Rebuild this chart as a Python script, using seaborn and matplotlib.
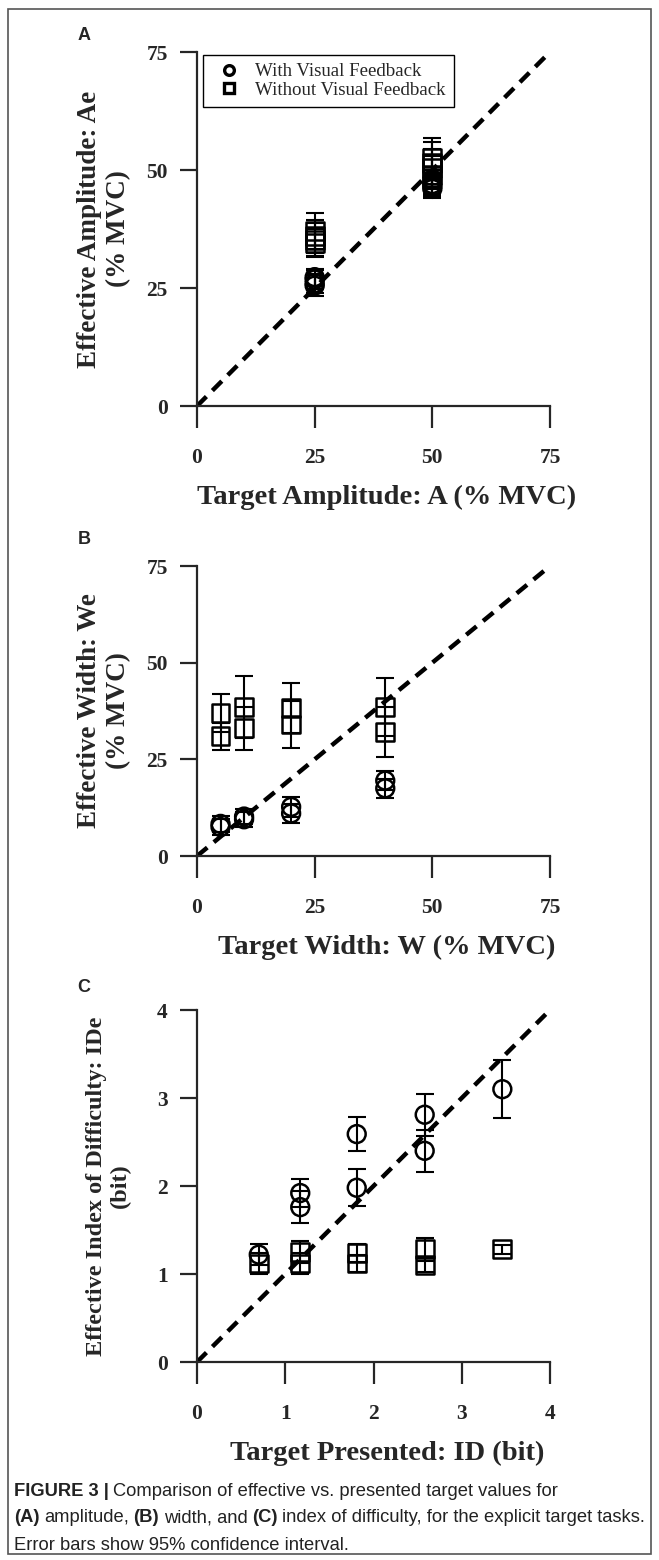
import numpy as np
import pandas as pd
import seaborn as sns
import matplotlib
matplotlib.use("Agg")
import matplotlib.pyplot as plt
from matplotlib.lines import Line2D
from matplotlib.patches import Rectangle

# -- Values (8 conditions per feedback type)

# (A) amplitude
amp_target = [25, 25, 25, 25, 50, 50, 50, 50]
amp_vf = [27.3, 26.8, 26.0, 25.5, 48.0, 47.0, 46.5, 46.0]
amp_vf_ci = [1.8, 2.0, 2.0, 2.2, 2.0, 2.2, 2.2, 2.0]
amp_novf = [37.0, 36.0, 35.2, 34.5, 52.5, 51.5, 50.5, 49.0]
amp_novf_ci = [3.8, 3.5, 3.5, 3.0, 4.3, 4.5, 4.0, 4.0]

# (B) width
wid_target = [5, 5, 10, 10, 20, 20, 40, 40]
wid_vf = [8.3, 7.5, 10.2, 9.5, 12.7, 11.0, 19.5, 17.5]
wid_vf_ci = [2.0, 2.0, 2.0, 2.0, 2.5, 2.5, 2.5, 2.5]
wid_novf = [37.0, 31.0, 38.5, 33.0, 38.3, 34.0, 38.5, 32.0]
wid_novf_ci = [5.0, 3.5, 8.0, 5.5, 6.5, 6.0, 7.5, 6.5]

# (C) index of difficulty
id_target = [0.70, 1.17, 1.17, 1.81, 1.81, 2.58, 2.58, 3.46]
id_vf = [1.22, 1.92, 1.76, 2.59, 1.98, 2.81, 2.40, 3.10]
id_vf_ci = [0.12, 0.16, 0.18, 0.19, 0.21, 0.24, 0.24, 0.33]
id_novf = [1.12, 1.25, 1.12, 1.24, 1.12, 1.28, 1.10, 1.28]
id_novf_ci = [0.12, 0.13, 0.12, 0.10, 0.10, 0.13, 0.08, 0.05]

conditions = ["With Visual Feedback", "Without Visual Feedback"]

sns.set_style("ticks")
plt.rcParams["font.family"] = ["Liberation Serif", "DejaVu Serif"]

W, H = 659, 1560
fig = plt.figure(figsize=(W / 100, H / 100), dpi=100)


def px_axes(left, right, top, bottom):
    return fig.add_axes([left / W, 1 - bottom / H, (right - left) / W, (bottom - top) / H])


def draw_panel(ax, x, vf, vf_ci, novf, novf_ci, lim, ticks, xlabel, ylabel, height_px,
               ylabel_size=19.5):
    df = pd.DataFrame({
        "target": list(x) * 2,
        "effective": list(vf) + list(novf),
        "ci": list(vf_ci) + list(novf_ci),
        "cond": [conditions[0]] * len(x) + [conditions[1]] * len(x),
    })
    ax.errorbar(df["target"], df["effective"], yerr=df["ci"], fmt="none",
                ecolor="black", elinewidth=1.5, capsize=6.5, capthick=1.5, zorder=2)
    sns.scatterplot(data=df, x="target", y="effective", style="cond",
                    markers={conditions[0]: "o", conditions[1]: "s"},
                    facecolors="none", edgecolor="black", linewidth=1.8, s=165,
                    legend=False, ax=ax, zorder=3)
    sns.lineplot(x=[0, lim], y=[0, lim], color="black", linewidth=3.2,
                 linestyle=(0, (3, 1.9)), ax=ax, zorder=1)

    ax.set_xlim(0, lim)
    ax.set_ylim(0, lim)
    ax.set_xticks(ticks)
    ax.set_yticks(ticks)
    sns.despine(ax=ax)
    for s in ["left", "bottom"]:
        ax.spines[s].set_linewidth(1.6)
    ax.tick_params(axis="y", length=12, width=1.6, pad=9, labelsize=15.5)
    ax.tick_params(axis="x", length=16, width=1.6, pad=14, labelsize=15.5)
    for lab in ax.get_xticklabels() + ax.get_yticklabels():
        lab.set_fontweight("bold")

    ax.set_xlabel(xlabel, fontsize=20.5, fontweight="bold")
    ax.xaxis.set_label_coords((387 - 197) / 353, -91 / height_px)
    ax.xaxis.label.set_verticalalignment("center")
    ax.set_ylabel(ylabel, fontsize=ylabel_size, fontweight="bold", linespacing=1.2,
                  multialignment="center")
    ax.yaxis.set_label_coords((131 - 197) / 353, 0.5)


axA = px_axes(197, 550, 52, 406)
draw_panel(axA, amp_target, amp_vf, amp_vf_ci, amp_novf, amp_novf_ci, 75, [0, 25, 50, 75],
           "Target Amplitude: A (% MVC)", "Effective Amplitude: Ae\n(% MVC)", 354)

axB = px_axes(197, 550, 566, 856)
draw_panel(axB, wid_target, wid_vf, wid_vf_ci, wid_novf, wid_novf_ci, 75, [0, 25, 50, 75],
           "Target Width: W (% MVC)", "Effective Width: We\n(% MVC)", 290)

axC = px_axes(197, 550, 1010, 1362)
draw_panel(axC, id_target, id_vf, id_vf_ci, id_novf, id_novf_ci, 4, [0, 1, 2, 3, 4],
           "Target Presented: ID (bit)", "Effective Index of Difficulty: IDe\n(bit)", 352,
           ylabel_size=17.5)

# legend in panel A
handles = [Line2D([], [], marker="o", ls="none", mfc="white", mec="black", ms=7, mew=2.4),
           Line2D([], [], marker="s", ls="none", mfc="white", mec="black", ms=7, mew=2.4)]
leg = axA.legend(handles, conditions, loc="upper left",
                 bbox_to_anchor=((203 - 197) / 353, (406 - 55) / 354), borderaxespad=0,
                 frameon=True, fancybox=False, edgecolor="black", framealpha=1,
                 prop={"family": "Liberation Serif", "size": 13.6},
                 handlelength=1.9, handletextpad=0.45, borderpad=0.42, labelspacing=0.08)
leg.get_frame().set_linewidth(1.0)

# panel letters
for letter, y in [("A", 36), ("B", 540), ("C", 987)]:
    fig.text(84 / W, 1 - y / H, letter, ha="center", va="center", fontsize=13,
             fontweight="bold", family=["Liberation Sans", "DejaVu Sans"])

# caption
cap_font = ["Liberation Sans", "DejaVu Sans"]
renderer = fig.canvas.get_renderer()


def rich_line(y, parts, size=13.2):
    x = 14
    space = 0.25 * size * 100 / 72
    for s, w in parts:
        t = fig.text(x / W, 1 - y / H, s, fontsize=size, fontweight=w, family=cap_font,
                     ha="left", va="center", color="#222222")
        x += t.get_window_extent(renderer).width + space


rich_line(1492, [("FIGURE 3 |", "bold"),
                 ("Comparison of effective vs. presented target values for", "normal")])
rich_line(1518, [("(A)", "bold"), ("amplitude,", "normal"), ("(B)", "bold"),
                 ("width, and", "normal"), ("(C)", "bold"),
                 ("index of difficulty, for the explicit target tasks.", "normal")])
rich_line(1545, [("Error bars show 95% confidence interval.", "normal")])

# outer frame
fig.add_artist(Rectangle((8 / W, 6 / H), (651 - 8) / W, (1553 - 8) / H,
                         transform=fig.transFigure, fill=False, lw=1.2, ec="#555555"))

fig.savefig("out.png", dpi=100)
